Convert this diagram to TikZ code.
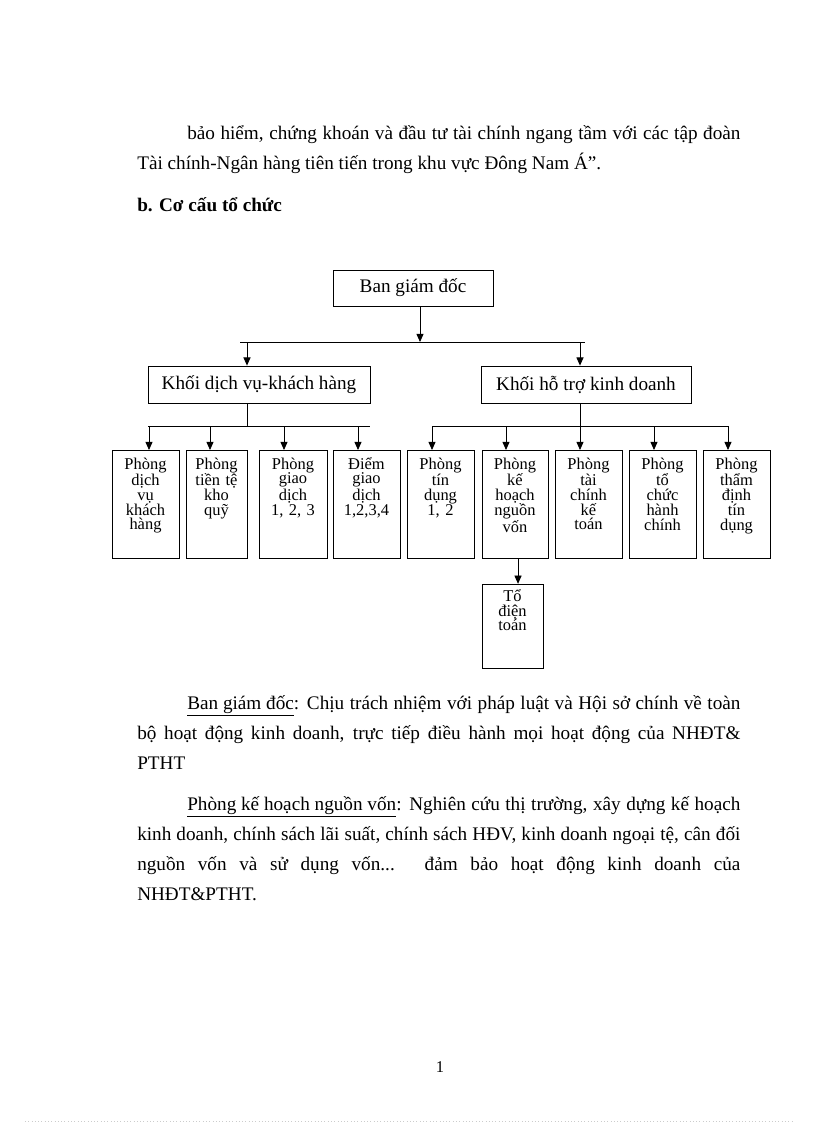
\documentclass[tikz,border=0pt]{standalone}
\usepackage{fontspec}
\setmainfont{Liberation Serif}
\usetikzlibrary{arrows.meta,positioning}
\newcommand{\oNho}{\fontsize{12pt}{10.8pt}\selectfont}
\newcommand{\vanBan}{\fontsize{14pt}{21.9pt}\selectfont}
\tikzset{
  khung/.style={draw, line width=0.6pt, inner sep=0pt},
  khoi/.style={khung, font=\fontsize{14pt}{16pt}\selectfont, minimum height=27pt},
  phong/.style={khung, align=center, text width=#1, text height=13.6pt,
    text depth=65.2pt, font=\oNho, anchor=north},
  phong/.default=48.9pt,
  muiten/.style={line width=0.6pt, -{Triangle[length=6pt,width=5.2pt]}},
  noi/.style={line width=0.6pt},
  doan/.style={inner sep=0pt, anchor=base west, text width=440pt,
    align=justify, font=\vanBan},
}
\begin{document}
\begin{tikzpicture}[x=0.7295pt, y=-0.7295pt]
  \useasboundingbox (0,0) rectangle (816,1123);

  \node[doan] (d1) at (137,139) {\hspace*{36.5pt}bảo hiểm, chứng khoán và đầu tư tài chính ngang tầm với các tập đoàn\linebreak
    Tài chính-Ngân hàng tiên tiến trong khu vực Đông Nam Á”.};
  \node[inner sep=0pt, anchor=base west, font=\vanBan\bfseries] (d2) at (137,211) {b. Cơ cấu tổ chức};

  \node[khoi, minimum width=116.7pt, minimum height=26.3pt] (bgd) at (413,288) {Ban giám đốc};
  \node[khoi, minimum width=162pt] (kdv) at (259,384.5) {Khối dịch vụ-khách hàng};
  \node[khoi, minimum width=153.2pt] (ktr) at (586,384.5) {Khối hỗ trợ kinh doanh};

  \coordinate (t0) at (420,342);
  \coordinate (t1) at (240,342);
  \coordinate (t2) at (585,342);
  \coordinate (a1) at (247,342);
  \coordinate (a2) at (580,342);
  \draw[muiten] (bgd.south -| t0) -- (t0);
  \draw[noi] (t1) -- (t2);
  \draw[muiten] (a1) -- (a1 |- kdv.north);
  \draw[muiten] (a2) -- (a2 |- ktr.north);

  \node[phong] (p1) at (145.5,450) {Phòng\\dịch\\vụ\\khách\\hàng};
  \node[phong=44.5pt] (p2) at (216.5,450) {Phòng\\tiền tệ\\kho\\quỹ};
  \node[phong=49.6pt] (p3) at (293,450) {Phòng\\giao\\dịch\\1, 2, 3};
  \node[phong] (p4) at (366.5,450) {Điểm\\giao\\dịch\\1,2,3,4};
  \node[phong] (p5) at (440.5,450) {Phòng\\tín\\dụng\\1, 2};
  \node[phong=48.2pt] (p6) at (515,450) {Phòng\\kế\\hoạch\\nguồn\\vốn};
  \node[phong] (p7) at (588.5,450) {Phòng\\tài\\chính\\kế\\toán};
  \node[phong] (p8) at (662.5,450) {Phòng\\tổ\\chức\\hành\\chính};
  \node[phong] (p9) at (736.5,450) {Phòng\\thẩm\\định\\tín\\dụng};
  \node[phong=44.5pt, text height=12.4pt, text depth=48.9pt,
    below=18.2pt of p6.south west, anchor=north west] (tdt) {Tổ\\điện\\toán};

  \coordinate (l1) at (148,426);
  \coordinate (l2) at (370,426);
  \coordinate (c1) at (149,426);
  \coordinate (c2) at (210,426);
  \coordinate (c3) at (284,426);
  \coordinate (c4) at (358,426);
  \coordinate (c5) at (432,426);
  \coordinate (c6) at (506,426);
  \coordinate (c7) at (580,426);
  \coordinate (c8) at (654,426);
  \coordinate (c9) at (728,426);
  \draw[noi] (a1 |- kdv.south) -- (a1 |- l1);
  \draw[noi] (l1) -- (l2);
  \draw[noi] (a2 |- ktr.south) -- (a2 |- c5);
  \draw[noi] (c5) -- (c9);
  \draw[muiten] (c1) -- (c1 |- p1.north);
  \draw[muiten] (c2) -- (c2 |- p2.north);
  \draw[muiten] (c3) -- (c3 |- p3.north);
  \draw[muiten] (c4) -- (c4 |- p4.north);
  \draw[muiten] (c5) -- (c5 |- p5.north);
  \draw[muiten] (c6) -- (c6 |- p6.north);
  \draw[muiten] (c7) -- (c7 |- p7.north);
  \draw[muiten] (c8) -- (c8 |- p8.north);
  \draw[muiten] (c9) -- (c9 |- p9.north);
  \draw[muiten] ([xshift=2.2pt]p6.south) -- ([xshift=2.2pt]p6.south |- tdt.north);

  \node[doan] (d3) at (137,709) {\hspace*{36.5pt}\underline{Ban giám đốc}: Chịu trách nhiệm với pháp luật và Hội sở chính về toàn\linebreak
    bộ hoạt động kinh doanh, trực tiếp điều hành mọi hoạt động của NHĐT\&\linebreak
    PTHT};
  \node[doan] (d4) at (137,810) {\hspace*{36.5pt}\underline{Phòng kế hoạch nguồn vốn}: Nghiên cứu thị trường, xây dựng kế hoạch\linebreak
    kinh doanh, chính sách lãi suất, chính sách HĐV, kinh doanh ngoại tệ, cân đối\linebreak
    nguồn vốn và sử dụng vốn... đảm bảo hoạt động kinh doanh của\linebreak
    NHĐT\&PTHT.};

  \node[inner sep=0pt, font=\fontsize{12pt}{14pt}\selectfont] (so) at (440,1067) {1};
  \coordinate (m1) at (25,1121);
  \coordinate (m2) at (792,1121);
  \draw[gray!40, dotted] (m1) -- (m2);
\end{tikzpicture}
\end{document}
